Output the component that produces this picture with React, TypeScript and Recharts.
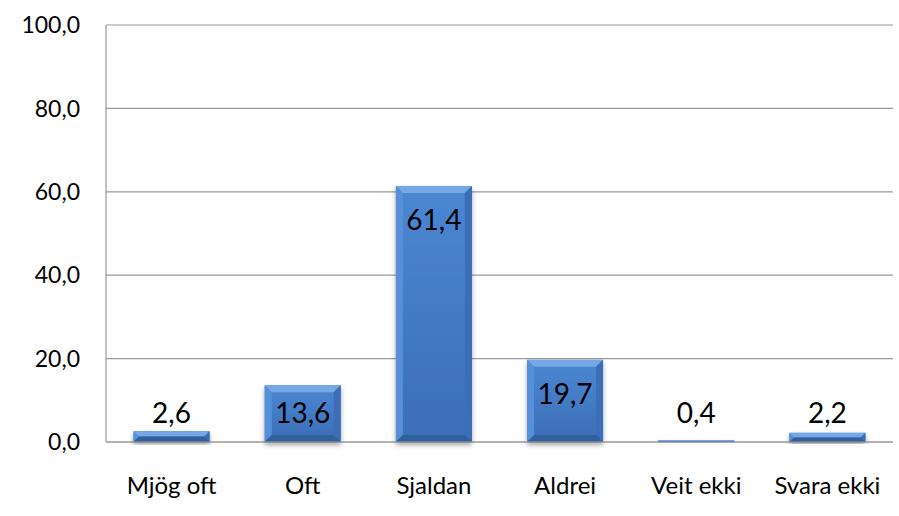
import { BarChart, Bar, XAxis, YAxis, CartesianGrid, LabelList } from 'recharts'

const categories = ['Mjög oft', 'Oft', 'Sjaldan', 'Aldrei', 'Veit ekki', 'Svara ekki']
const percentages = [2.6, 13.6, 61.4, 19.7, 0.4, 2.2]
const yTicks = [0, 20, 40, 60, 80, 100]

const data = categories.map((name, i) => ({ name, value: percentages[i] }))

const fmt = (v: number) => v.toFixed(1).replace('.', ',')
const font = 'Lato, "Open Sans", sans-serif'
const gridColor = '#9a9a9a'

function BevelBar(props: any) {
  const { x, y, width, height } = props
  if (width == null || height == null || height <= 0) return null
  const b = Math.min(7, height / 2)
  const r = x + width
  const bt = y + height
  return (
    <g filter="url(#barShadow)">
      <rect x={x} y={y} width={width} height={height} fill="url(#barFace)" />
      <polygon points={`${x},${y} ${r},${y} ${r - b},${y + b} ${x + b},${y + b}`} fill="#76a8e6" />
      <polygon points={`${x},${y} ${x + b},${y + b} ${x + b},${bt - b} ${x},${bt}`} fill="#5690d8" />
      <polygon points={`${r},${y} ${r - b},${y + b} ${r - b},${bt - b} ${r},${bt}`} fill="#3a6eb6" />
      <polygon points={`${x},${bt} ${x + b},${bt - b} ${r - b},${bt - b} ${r},${bt}`} fill="#31609f" />
    </g>
  )
}

function ValueLabel(props: any) {
  const { x, y, width, height, value } = props
  const bottom = y + height
  const cy = Math.min(y + 33, bottom - 30)
  return (
    <text
      x={x + width / 2}
      y={cy}
      textAnchor="middle"
      dominantBaseline="central"
      fontFamily={font}
      fontSize={28}
      fill="#000"
    >
      {fmt(Number(value))}
    </text>
  )
}

export default function App() {
  return (
    <div style={{ position: 'absolute', left: 0, top: 0, background: '#fff' }}>
      <BarChart
        width={899}
        height={516}
        data={data}
        margin={{ top: 25, right: 6, bottom: 0, left: 0 }}
        barCategoryGap="21%"
      >
        <defs>
          <linearGradient id="barFace" x1="0" y1="0" x2="0" y2="1">
            <stop offset="0%" stopColor="#4b87d3" />
            <stop offset="100%" stopColor="#3b6eb6" />
          </linearGradient>
          <filter id="barShadow" x="-20%" y="-20%" width="140%" height="140%">
            <feDropShadow dx="0" dy="3" stdDeviation="2.5" floodColor="#000" floodOpacity="0.35" />
          </filter>
        </defs>
        <CartesianGrid vertical={false} stroke={gridColor} strokeWidth={1.2} />
        <XAxis
          dataKey="name"
          height={74}
          tickLine={false}
          tickSize={0}
          tickMargin={35}
          axisLine={{ stroke: gridColor, strokeWidth: 1.2 }}
          tick={{ fontSize: 24, fill: '#000', fontFamily: font }}
          interval={0}
        />
        <YAxis
          width={106}
          domain={[0, 100]}
          ticks={yTicks}
          tickFormatter={fmt}
          tickLine={false}
          tickSize={0}
          tickMargin={26}
          axisLine={{ stroke: gridColor, strokeWidth: 1.2 }}
          tick={{ fontSize: 23, fill: '#000', fontFamily: font }}
        />
        <Bar dataKey="value" shape={<BevelBar />} isAnimationActive={false}>
          <LabelList dataKey="value" content={<ValueLabel />} />
        </Bar>
      </BarChart>
    </div>
  )
}
